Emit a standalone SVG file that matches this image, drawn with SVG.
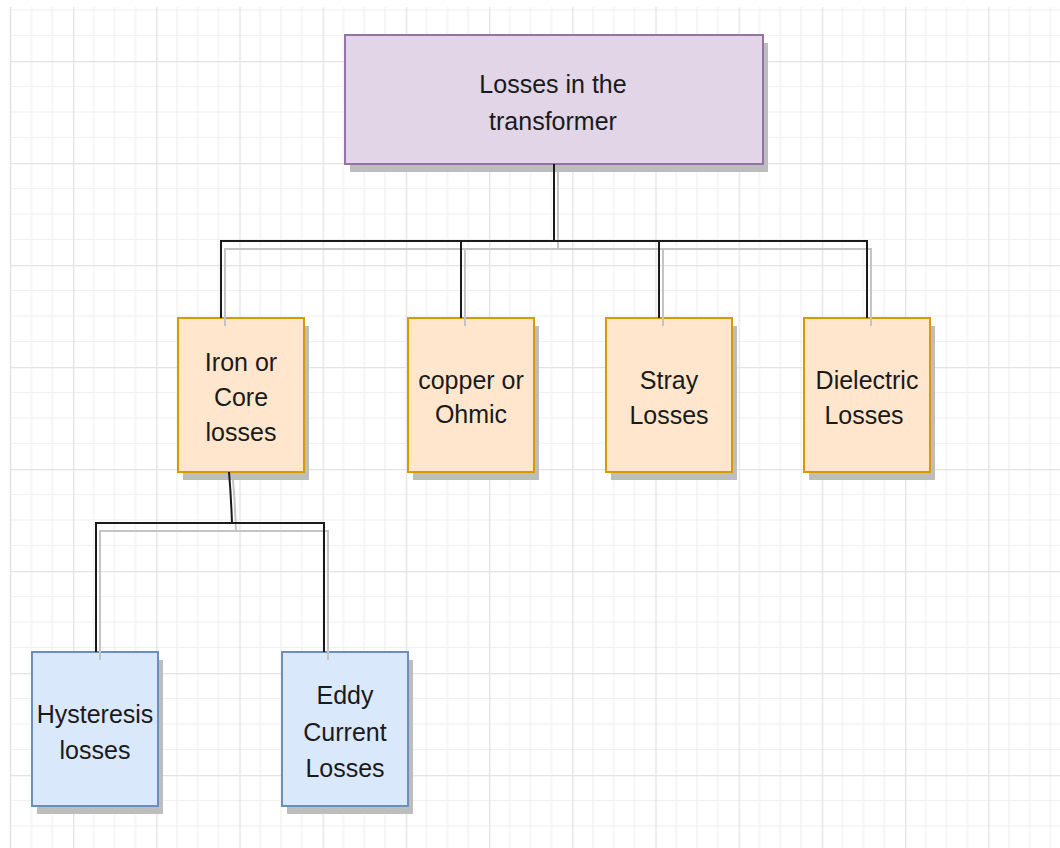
<svg xmlns="http://www.w3.org/2000/svg" width="1060" height="848" viewBox="0 0 1060 848">
<style>
.sh{fill:#bdbdbd;}
.p{fill:#e1d5e7;stroke:#9673a6;stroke-width:2;}
.o{fill:#ffe6cc;stroke:#d79b00;stroke-width:2;}
.b{fill:#dae8fc;stroke:#6c8ebf;stroke-width:2;}
text{font-family:"Liberation Sans",Arial,sans-serif;font-size:25px;fill:#1a1a1a;text-anchor:middle;}
.ln{fill:none;stroke:#1a1a1a;stroke-width:2;}
.lns{fill:none;stroke:#c4c4c4;stroke-width:2;}
</style>
<defs>
<pattern id="grid" patternUnits="userSpaceOnUse" x="73" y="61" width="83.2" height="102">
<path d="M20.8 0V102M41.6 0V102M62.4 0V102M0 25.5H83.2M0 51H83.2M0 76.5H83.2" stroke="#f0f0f0" stroke-width="1.2" fill="none"/>
<path d="M0.6 0V102M0 0.6H83.2" stroke="#e3e3e3" stroke-width="1.4" fill="none"/>
</pattern>
</defs>
<rect width="1060" height="848" fill="#ffffff"/>
<rect x="10" y="7" width="1050" height="841" fill="url(#grid)"/>
<line x1="10.5" y1="7" x2="10.5" y2="848" stroke="#e3e3e3" stroke-width="1.4"/>

<g id="n-top">
<rect class="sh" x="350" y="43" width="418" height="129"/>
<rect class="p" x="345" y="35" width="418" height="129"/>
<text x="553" y="93">Losses in the</text>
<text x="553" y="130">transformer</text>
</g>
<g id="n-iron">
<rect class="sh" x="183" y="326" width="126" height="154"/>
<rect class="o" x="178" y="318" width="126" height="154"/>
<text x="241" y="371">Iron or</text>
<text x="241" y="406">Core</text>
<text x="241" y="441">losses</text>
</g>
<g id="n-copper">
<rect class="sh" x="413" y="326" width="126" height="154"/>
<rect class="o" x="408" y="318" width="126" height="154"/>
<text x="471" y="389">copper or</text>
<text x="471" y="423">Ohmic</text>
</g>
<g id="n-stray">
<rect class="sh" x="611" y="326" width="126" height="154"/>
<rect class="o" x="606" y="318" width="126" height="154"/>
<text x="669" y="389">Stray</text>
<text x="669" y="424">Losses</text>
</g>
<g id="n-dielectric">
<rect class="sh" x="809" y="326" width="126" height="154"/>
<rect class="o" x="804" y="318" width="126" height="154"/>
<text x="867" y="389">Dielectric</text>
<text x="864" y="424">Losses</text>
</g>
<g id="n-hysteresis">
<rect class="sh" x="37" y="660" width="126" height="154"/>
<rect class="b" x="32" y="652" width="126" height="154"/>
<text x="95" y="723">Hysteresis</text>
<text x="95" y="759">losses</text>
</g>
<g id="n-eddy">
<rect class="sh" x="287" y="660" width="126" height="154"/>
<rect class="b" x="282" y="652" width="126" height="154"/>
<text x="345" y="704">Eddy</text>
<text x="345" y="741">Current</text>
<text x="345" y="777">Losses</text>
</g>

<g id="connectors">
<path class="lns" d="M558 172V249M225 326V249H871V326M465 249V326M663 249V326"/>
<path class="lns" d="M233 480Q235 503 236 531M100 660V531H328V660"/>
<path class="ln" d="M554 164V241M221 318V241H867V318M461 241V318M659 241V318"/>
<path class="ln" d="M229 472Q231 495 232 523M96 652V523H324V652"/>
</g>
</svg>
